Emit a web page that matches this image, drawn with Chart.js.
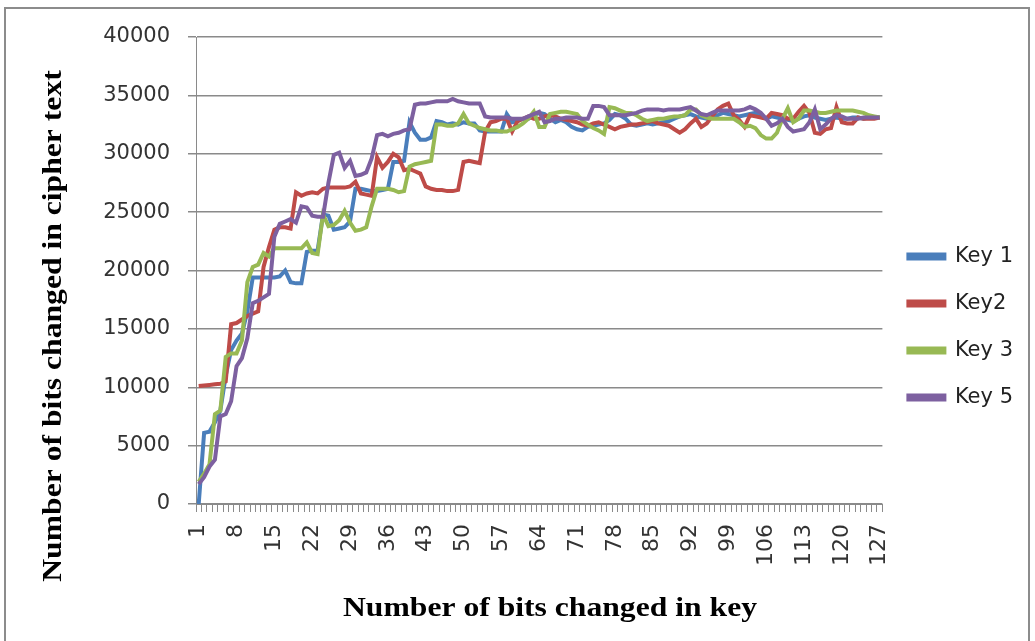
<!DOCTYPE html>
<html lang="en">
<head>
  <meta charset="UTF-8" />
  <title>Bits changed in cipher text</title>
  <script src="https://cdn.jsdelivr.net/npm/chart.js"></script>
  <style>
    body { margin:0; background:#fff; }
    canvas { display:block; }
  </style>
</head>
<body>
<canvas id="chart" width="1035" height="641"></canvas>

<script>
// ---- data ----
const bits = Array.from({length:127}, (_, i) => String(i + 1));   // 1..127
const yTicks = [0, 5000, 10000, 15000, 20000, 25000, 30000, 35000, 40000];

const key1 = [
  0, 6100, 6200, 7000, 8000, 11000, 13200, 14000, 14600, 16500,
  19400, 19400, 19400, 19400, 19400, 19500, 20000, 19000, 18900, 18900,
  21600, 21700, 21700, 24800, 24700, 23500, 23600, 23700, 24200, 27000,
  27000, 26900, 26800, 26800, 26900, 27000, 29300, 29300, 29400, 32700,
  31800, 31200, 31200, 31400, 32800, 32700, 32500, 32600, 32500, 32700,
  32600, 32600, 32000, 31900, 31900, 31900, 31900, 33400, 32700, 32800,
  33000, 33000, 33300, 33500, 33400, 33000, 32700, 32900, 32700, 32300,
  32100, 32000, 32300, 32400, 32500, 32600, 32900, 33400, 33300, 33000,
  32500, 32400, 32500, 32600, 32500, 32600, 32700, 32800, 33000, 33200,
  33300, 33400, 33200, 33100, 33000, 33100, 33300, 33500, 33400, 33300,
  33200, 33300, 33400, 33500, 33300, 33000, 33200, 33100, 33000, 32900,
  32800, 33000, 33200, 33300, 33100, 33000, 32900, 33000, 33100, 33000,
  33000, 33100, 33100, 33000, 33100, 33100, 33100
];
const key2 = [
  10100, 10150, 10200, 10250, 10300, 10500, 15400, 15500, 15800, 16100,
  16300, 16500, 20300, 22000, 23500, 23700, 23700, 23600, 26700, 26400,
  26600, 26700, 26600, 27000, 27100, 27100, 27100, 27100, 27200, 27600,
  26600, 26500, 26400, 29700, 28800, 29300, 30000, 29700, 28600, 28700,
  28500, 28300, 27200, 27000, 26900, 26900, 26800, 26800, 26900, 29300,
  29400, 29300, 29200, 31900, 32700, 32800, 33000, 33000, 31900, 32800,
  33000, 33200, 33000, 33000, 33200, 33300, 33200, 33000, 32900, 32800,
  32700, 32500, 32400, 32600, 32700, 32500, 32300, 32100, 32300, 32400,
  32500, 32500, 32600, 32700, 32800, 32600, 32500, 32400, 32100, 31800,
  32100, 32600, 33000, 32300, 32600, 33200, 33800, 34100, 34300, 33300,
  32900, 32300, 33300, 33200, 33100, 33000, 33500, 33400, 33300, 33000,
  33000, 33600, 34100, 33500, 31800, 31700, 32100, 32200, 34000, 32700,
  32600, 32600, 33100, 33000, 33000, 33000, 33100
];
const key3 = [
  1900, 2600, 3400, 7700, 8000, 12600, 12900, 12900, 14000, 19000,
  20300, 20500, 21500, 21200, 21900, 21900, 21900, 21900, 21900, 21900,
  22400, 21500, 21400, 24800, 23800, 23900, 24300, 25100, 24100, 23400,
  23500, 23700, 25500, 27000, 27000, 27000, 26900, 26700, 26800, 28900,
  29100, 29200, 29300, 29400, 32500, 32500, 32400, 32400, 32600, 33400,
  32600, 32400, 32200, 32100, 32000, 32000, 31900, 31900, 32100, 32300,
  32600, 33000, 33600, 32300, 32300, 33400, 33500, 33600, 33600, 33500,
  33400, 32800, 32500, 32200, 32000, 31700, 34000, 33900, 33700, 33500,
  33500, 33300, 33000, 32800, 32900, 33000, 33000, 33100, 33200, 33200,
  33300, 33800, 33800, 33300, 33100, 33000, 33000, 33000, 33000, 33000,
  32700, 32300, 32400, 32200, 31600, 31300, 31300, 31800, 33000, 33900,
  32700, 33000, 33700, 33700, 33600, 33500, 33500, 33600, 33700, 33700,
  33700, 33700, 33600, 33500, 33300, 33200, 33100
];
const key5 = [
  1700, 2300, 3200, 3800, 7500, 7700, 8800, 11800, 12500, 14200,
  17200, 17400, 17700, 18000, 22900, 24000, 24200, 24400, 24100, 25500,
  25400, 24700, 24600, 24600, 27500, 29900, 30100, 28800, 29400, 28100,
  28200, 28400, 29600, 31600, 31700, 31500, 31700, 31800, 32000, 32100,
  34200, 34300, 34300, 34400, 34500, 34500, 34500, 34700, 34500, 34400,
  34300, 34300, 34300, 33200, 33100, 33100, 33100, 33100, 33000, 33000,
  33000, 33200, 33400, 33600, 32700, 32800, 33000, 33000, 33100, 33100,
  33100, 33000, 33000, 34100, 34100, 34000, 33300, 33300, 33300, 33300,
  33400, 33500, 33700, 33800, 33800, 33800, 33700, 33800, 33800, 33800,
  33900, 34000, 33700, 33400, 33300, 33500, 33700, 33700, 33700, 33700,
  33700, 33800, 34000, 33800, 33500, 33000, 32400, 32600, 33000, 32300,
  31900, 32000, 32100, 32700, 33800, 32100, 32500, 33000, 33300, 33200,
  33000, 33000, 33000, 33100, 33100, 33100, 33100
];

const seriesNames = ['Key 1', 'Key2', 'Key 3', 'Key 5'];
const seriesColors = ['#4a7ebb', '#be4b48', '#98b954', '#7d60a0'];
const xTitle = 'Number of bits changed in key';
const yTitle = 'Number of bits changed in cipher text';

const gridColor = '#8a8a8a';

// white page + grey frame, then the two bold serif axis titles
const frameAndTitles = {
  id: 'frameAndTitles',
  beforeDraw(chart) {
    const ctx = chart.ctx;
    ctx.save();
    ctx.fillStyle = '#fff';
    ctx.fillRect(0, 0, chart.width, chart.height);
    ctx.strokeStyle = '#8c8c8c';
    ctx.lineWidth = 2;
    ctx.strokeRect(5, 8, 1024, 660);
    ctx.restore();
  },
  afterDraw(chart) {
    const ctx = chart.ctx;
    ctx.save();
    ctx.fillStyle = '#000';
    ctx.font = 'bold 28px "Liberation Serif"';
    ctx.textAlign = 'center';
    ctx.textBaseline = 'middle';
    ctx.save();
    ctx.translate(550, 609);
    ctx.scale(1.13, 1);
    ctx.fillText(xTitle, 0, 0);
    ctx.restore();
    ctx.save();
    ctx.translate(54, 326);
    ctx.rotate(-Math.PI / 2);
    ctx.scale(1.13, 1);
    ctx.fillText(yTitle, 0, 0);
    ctx.restore();
    ctx.restore();
  }
};

const allSeries = [key1, key2, key3, key5];
const datasets = allSeries.map((vals, i) => ({
  label: seriesNames[i],
  data: vals,
  borderColor: seriesColors[i],
  backgroundColor: seriesColors[i],
  borderWidth: 4,
  pointRadius: 0,
  tension: 0,
  order: allSeries.length - i      // later keys drawn on top, like Excel
}));

new Chart(document.getElementById('chart'), {
  type: 'line',
  data: { labels: bits, datasets },
  plugins: [frameAndTitles],
  options: {
    responsive: false,
    animation: false,
    layout: { padding: { top: 37, left: 0, right: 12, bottom: 24 } },
    scales: {
      x: {
        offset: true,
        grid: { display: true, drawOnChartArea: false, drawTicks: true, tickLength: 8, color: gridColor, offset: true },
        border: { color: gridColor, width: 1 },
        ticks: {
          autoSkip: false,
          maxRotation: 90,
          minRotation: 90,
          padding: 12,
          color: '#333',
          font: { family: '"DejaVu Sans"', size: 22 },
          callback: (v, i) => (i % 7 === 0 ? bits[i] : '')
        },
        afterFit: s => { s.height = 113; }
      },
      y: {
        min: 0,
        max: 40000,
        afterBuildTicks: s => { s.ticks = yTicks.map(v => ({ value: v })); },
        grid: { color: gridColor, tickLength: 8, lineWidth: 1.5 },
        border: { color: gridColor, width: 1 },
        ticks: {
          padding: 18,
          color: '#333',
          font: { family: '"DejaVu Sans"', size: 21 },
          callback: v => String(v)
        },
        afterFit: s => { s.width = 196; }
      }
    },
    plugins: {
      legend: {
        position: 'right',
        align: 'center',
        labels: {
          boxWidth: 36,
          boxHeight: 4,
          padding: 26,
          color: '#222',
          font: { family: '"DejaVu Sans"', size: 21 },
          sort: (a, b) => a.datasetIndex - b.datasetIndex
        }
      },
      tooltip: { enabled: false }
    }
  }
});
</script>
</body>
</html>
